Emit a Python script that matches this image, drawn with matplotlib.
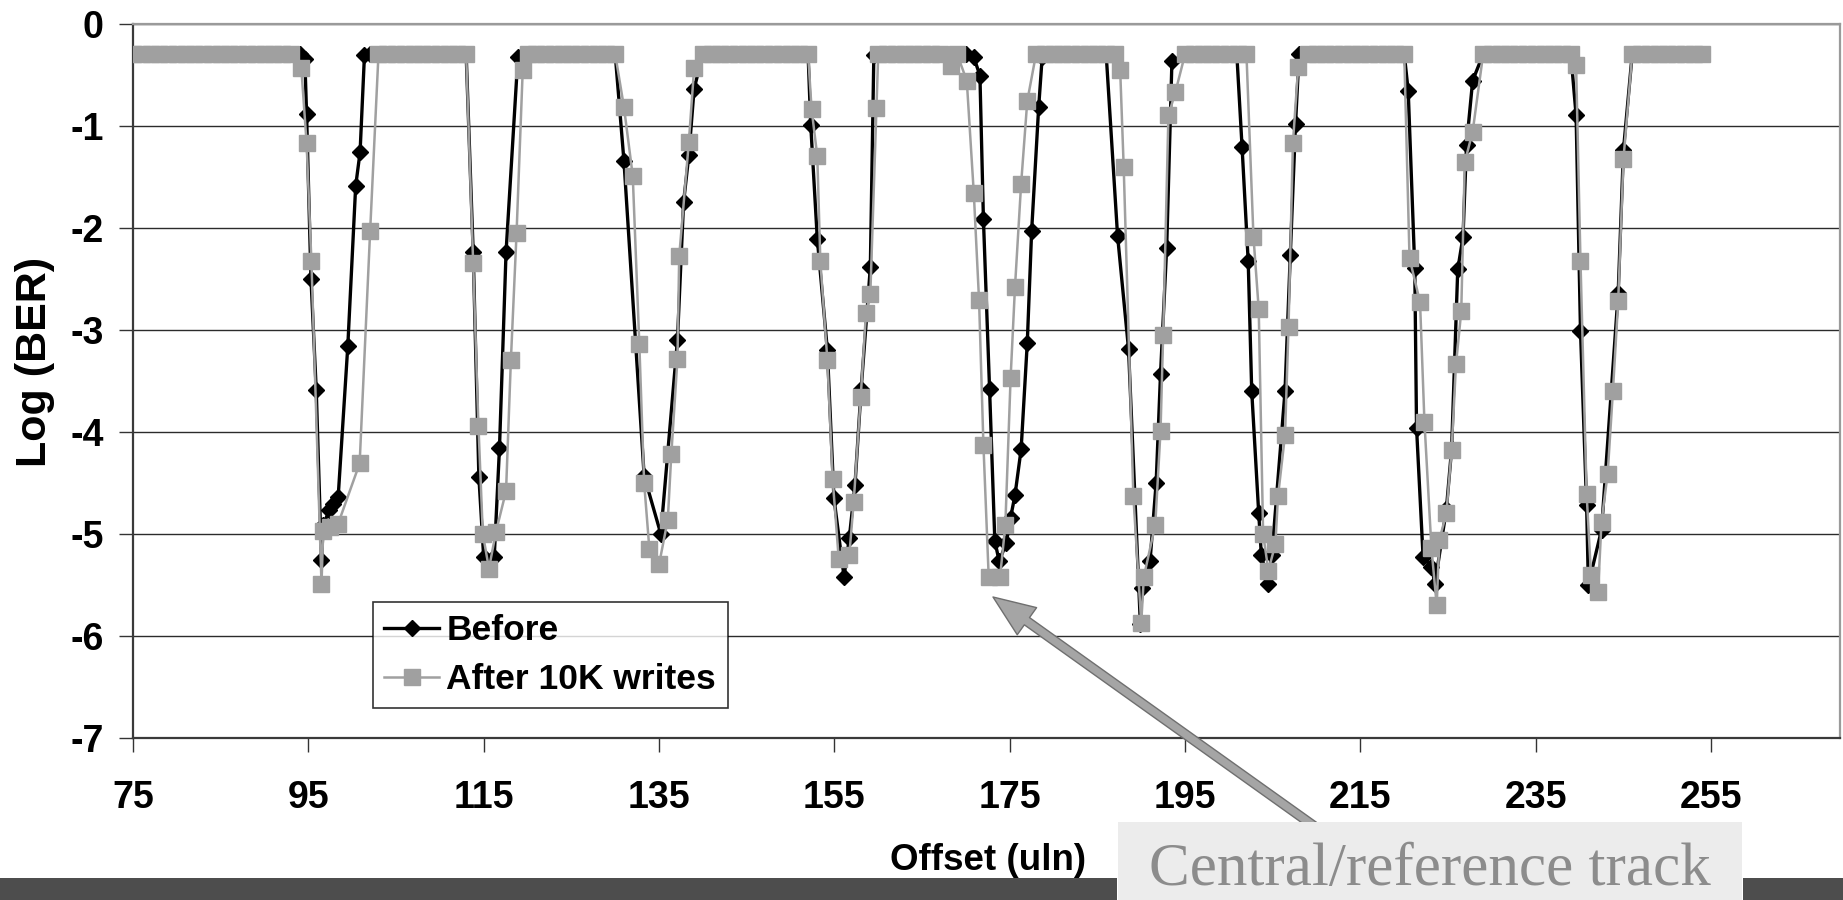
import matplotlib
matplotlib.use("Agg")
import matplotlib.pyplot as plt
from matplotlib import font_manager
from matplotlib.patches import Rectangle

# pick a narrow bold sans if we have one
names = {f.name for f in font_manager.fontManager.ttflist}
sans = "Liberation Sans Narrow" if "Liberation Sans Narrow" in names else "Liberation Sans"
plt.rcParams["font.family"] = [sans, "DejaVu Sans"]
plt.rcParams["axes.unicode_minus"] = False

# ---- data ----
before_x = [75, 76, 77, 78, 79, 80, 81, 82, 83, 84, 85, 86, 87, 88, 89, 90, 91, 92, 93, 94,
            94.6, 94.8, 95.3, 95.9, 96.5, 96.7, 97.4, 97.8, 98.4, 99.5, 100.4, 100.9, 101.4,
            102, 103, 104, 105, 106, 107, 108, 109, 110, 111, 112, 113,
            113.8, 114.45, 115.0, 116.2, 116.8, 117.55, 118.9,
            120, 121, 122, 123, 124, 125, 126, 127, 128, 129, 130,
            131.0, 133.3, 135.2, 137.1, 137.8, 138.4, 139.0,
            140, 141, 142, 143, 144, 145, 146, 147, 148, 149, 150, 151, 152,
            152.3, 153.05, 154.2, 154.95, 156.1, 156.7, 157.35, 158.05, 159.1, 159.5,
            160, 161, 162, 163, 164, 165, 166, 167, 168.3, 169, 170,
            170.9, 171.6, 172.0, 172.7, 173.3, 173.8, 174.6, 175.1, 175.6, 176.3, 177.0, 177.5, 178.3, 178.7,
            180, 181, 182, 183, 184, 185, 186,
            187.3, 188.55, 189.9, 190.1, 191.0, 191.7, 192.2, 192.9, 193.5,
            195, 196, 197, 198, 199, 200,
            200.9, 201.5, 202.2, 202.6, 203.4, 203.7, 204.5, 204.9, 206.4, 207.0, 207.6,
            208, 209, 210, 211, 212, 213, 214, 215, 216, 217, 218, 219, 220,
            220.45, 221.2, 221.4, 222.15, 223.1, 223.5, 224.8, 225.4, 226.1, 226.7, 227.1, 227.8,
            229, 230, 231, 232, 233, 234, 235, 236, 237, 238, 239,
            239.6, 240.1, 240.8, 241.0, 242.5, 244.4, 245.0,
            246, 247, 248, 249, 250, 251, 252, 253, 254]
before_y = [-0.3, -0.3, -0.3, -0.3, -0.3, -0.3, -0.3, -0.3, -0.3, -0.3, -0.3, -0.3, -0.3, -0.3, -0.3, -0.3, -0.3, -0.3, -0.3, -0.3,
            -0.35, -0.89, -2.50, -3.59, -5.26, -4.91, -4.77, -4.71, -4.64, -3.16, -1.59, -1.26, -0.31,
            -0.3, -0.3, -0.3, -0.3, -0.3, -0.3, -0.3, -0.3, -0.3, -0.3, -0.3, -0.3,
            -2.24, -4.44, -5.23, -5.23, -4.16, -2.24, -0.33,
            -0.3, -0.3, -0.3, -0.3, -0.3, -0.3, -0.3, -0.3, -0.3, -0.3, -0.3,
            -1.35, -4.43, -5.0, -3.1, -1.75, -1.29, -0.64,
            -0.3, -0.3, -0.3, -0.3, -0.3, -0.3, -0.3, -0.3, -0.3, -0.3, -0.3, -0.3, -0.3,
            -0.99, -2.11, -3.2, -4.65, -5.42, -5.04, -4.52, -3.58, -2.39, -0.31,
            -0.3, -0.3, -0.3, -0.3, -0.3, -0.3, -0.3, -0.3, -0.42, -0.3, -0.3,
            -0.33, -0.51, -1.92, -3.58, -5.07, -5.27, -5.09, -4.84, -4.62, -4.17, -3.13, -2.03, -0.82, -0.33,
            -0.3, -0.3, -0.3, -0.3, -0.3, -0.3, -0.3,
            -2.08, -3.19, -5.88, -5.53, -5.27, -4.5, -3.43, -2.2, -0.37,
            -0.3, -0.3, -0.3, -0.3, -0.3, -0.3,
            -0.3, -1.21, -2.33, -3.6, -4.8, -5.21, -5.49, -5.21, -3.6, -2.27, -0.98,
            -0.3, -0.3, -0.3, -0.3, -0.3, -0.3, -0.3, -0.3, -0.3, -0.3, -0.3, -0.3, -0.3,
            -0.66, -2.4, -3.96, -5.23, -5.32, -5.49, -4.76, -4.17, -2.41, -2.09, -1.19, -0.56,
            -0.3, -0.3, -0.3, -0.3, -0.3, -0.3, -0.3, -0.3, -0.3, -0.3, -0.3,
            -0.9, -3.01, -4.72, -5.5, -4.96, -2.64, -1.24,
            -0.3, -0.3, -0.3, -0.3, -0.3, -0.3, -0.3, -0.3, -0.3]

after_x = [75, 76, 77, 78, 79, 80, 81, 82, 83, 84, 85, 86, 87, 88, 89, 90, 91, 92, 93,
           94.2, 94.8, 95.35, 96.5, 96.7, 97.5, 98.4, 100.85, 102.05,
           103, 104, 105, 106, 107, 108, 109, 110, 111, 112, 113,
           113.8, 114.4, 114.9, 115.6, 116.4, 117.55, 118.1, 118.75, 119.45,
           120, 121, 122, 123, 124, 125, 126, 127, 128, 129, 130,
           131.0, 132.0, 132.75, 133.3, 133.9, 135.0, 136.0, 136.4, 137.1, 137.3, 138.4, 139.0,
           140, 141, 142, 143, 144, 145, 146, 147, 148, 149, 150, 151, 152,
           152.4, 153.05, 153.4, 154.2, 154.8, 155.5, 156.7, 157.2, 158.0, 158.6, 159.1, 159.8,
           160, 161, 162, 163, 164, 165, 166, 167, 168.3, 169, 170.1,
           170.9, 171.5, 172.0, 172.6, 173.9, 174.5, 175.1, 175.6, 176.3, 177.0,
           178, 179, 180, 181, 182, 183, 184, 185, 186, 187,
           187.6, 188.0, 189.1, 190.0, 190.3, 191.6, 192.2, 192.5, 193.1, 193.9,
           195, 196, 197, 198, 199, 200, 201, 202,
           202.8, 203.4, 203.9, 204.5, 205.3, 205.6, 206.4, 206.8, 207.3, 207.9,
           209, 210, 211, 212, 213, 214, 215, 216, 217, 218, 219, 220,
           220.6, 221.8, 222.3, 223.1, 223.7, 224.0, 224.8, 225.4, 225.9, 226.5, 226.9, 227.8,
           229, 230, 231, 232, 233, 234, 235, 236, 237, 238, 239,
           239.6, 240.1, 240.8, 241.3, 242.1, 242.5, 243.2, 243.8, 244.4, 245.0,
           246, 247, 248, 249, 250, 251, 252, 253, 254]
after_y = [-0.3, -0.3, -0.3, -0.3, -0.3, -0.3, -0.3, -0.3, -0.3, -0.3, -0.3, -0.3, -0.3, -0.3, -0.3, -0.3, -0.3, -0.3, -0.3,
           -0.44, -1.17, -2.33, -5.49, -4.97, -4.93, -4.9, -4.31, -2.03,
           -0.3, -0.3, -0.3, -0.3, -0.3, -0.3, -0.3, -0.3, -0.3, -0.3, -0.3,
           -2.35, -3.94, -5.0, -5.34, -4.98, -4.58, -3.3, -2.05, -0.46,
           -0.3, -0.3, -0.3, -0.3, -0.3, -0.3, -0.3, -0.3, -0.3, -0.3, -0.3,
           -0.82, -1.49, -3.14, -4.5, -5.15, -5.3, -4.86, -4.22, -3.29, -2.28, -1.16, -0.44,
           -0.3, -0.3, -0.3, -0.3, -0.3, -0.3, -0.3, -0.3, -0.3, -0.3, -0.3, -0.3, -0.3,
           -0.84, -1.3, -2.33, -3.3, -4.46, -5.25, -5.21, -4.69, -3.66, -2.84, -2.65, -0.83,
           -0.3, -0.3, -0.3, -0.3, -0.3, -0.3, -0.3, -0.3, -0.42, -0.3, -0.56,
           -1.66, -2.71, -4.13, -5.42, -5.42, -4.91, -3.47, -2.58, -1.57, -0.76,
           -0.3, -0.3, -0.3, -0.3, -0.3, -0.3, -0.3, -0.3, -0.3, -0.3,
           -0.46, -1.41, -4.63, -5.87, -5.42, -4.91, -3.99, -3.05, -0.9, -0.67,
           -0.3, -0.3, -0.3, -0.3, -0.3, -0.3, -0.3, -0.3,
           -2.09, -2.8, -5.0, -5.36, -5.1, -4.63, -4.03, -2.97, -1.17, -0.43,
           -0.3, -0.3, -0.3, -0.3, -0.3, -0.3, -0.3, -0.3, -0.3, -0.3, -0.3, -0.3,
           -2.3, -2.73, -3.9, -5.14, -5.7, -5.06, -4.8, -4.18, -3.34, -2.82, -1.36, -1.06,
           -0.3, -0.3, -0.3, -0.3, -0.3, -0.3, -0.3, -0.3, -0.3, -0.3, -0.3,
           -0.41, -2.33, -4.61, -5.4, -5.57, -4.88, -4.41, -3.6, -2.72, -1.33,
           -0.3, -0.3, -0.3, -0.3, -0.3, -0.3, -0.3, -0.3, -0.3]

x_ticks = [75, 95, 115, 135, 155, 175, 195, 215, 235, 255]
y_ticks = [0, -1, -2, -3, -4, -5, -6, -7]

W, H = 1843, 900
fig = plt.figure(figsize=(W / 100, H / 100), dpi=100)
fig.patch.set_facecolor("white")

# axes box in pixel terms of the reference
left, right, top, bottom = 133, 1840, 23.5, 738
ax = fig.add_axes([left / W, 1 - bottom / H, (right - left) / W, (bottom - top) / H])

gray = "#a0a0a0"
ax.plot(before_x, before_y, color="black", lw=2.4, marker="D", ms=8.5,
        mfc="black", mec="black", zorder=3, label="Before")
ax.plot(after_x, after_y, color=gray, lw=1.8, marker="s", ms=12,
        mfc=gray, mec=gray, zorder=4, label="After 10K writes")

ax.set_xlim(75, 269.7)
ax.set_ylim(-7, 0)
ax.set_xticks(x_ticks)
ax.set_yticks(y_ticks)
ax.set_yticklabels([str(v) for v in y_ticks])

fs = 27
for lab in ax.get_xticklabels() + ax.get_yticklabels():
    lab.set_fontsize(fs)
    lab.set_fontweight("bold")
ax.tick_params(axis="x", direction="out", length=10, width=1, pad=20, color="#333333")
ax.tick_params(axis="y", direction="out", length=10, width=1, pad=11, color="#333333")

ax.yaxis.grid(True, color="#2b2b2b", lw=1)
ax.set_axisbelow(True)
for side in ["top", "right"]:
    ax.spines[side].set_color("#9a9a9a")
    ax.spines[side].set_linewidth(1.6)
for side in ["left", "bottom"]:
    ax.spines[side].set_color("#3a3a3a")
    ax.spines[side].set_linewidth(1.6)

fig.text(35 / W, 1 - 362 / H, "Log (BER)", rotation=90, ha="center", va="center",
         fontsize=31, fontweight="bold")
fig.text(988 / W, 1 - 860 / H, "Offset (uln)", ha="center", va="center",
         fontsize=26.5, fontweight="bold")

leg = ax.legend(loc="lower left", bbox_to_anchor=(372.6 / W, 1 - 707.6 / H),
                bbox_transform=fig.transFigure, borderaxespad=0,
                prop={"size": 25.5, "weight": "bold"}, frameon=True, fancybox=False,
                handlelength=1.55, handletextpad=0.2, labelspacing=0.45,
                borderpad=0.33)
leg.get_frame().set_edgecolor("black")
leg.get_frame().set_linewidth(1.2)
leg.set_zorder(6)

# slide decoration below the chart
bar_h = 22
fig.add_artist(Rectangle((0, 0), 1117 / W, bar_h / H, transform=fig.transFigure,
                         color="#4d4d4d", lw=0))
fig.add_artist(Rectangle((1743 / W, 0), (W - 1743) / W, bar_h / H, transform=fig.transFigure,
                         color="#4d4d4d", lw=0))
fig.add_artist(Rectangle((1118 / W, 0), (1742 - 1118) / W, 78 / H, transform=fig.transFigure,
                         color="#ececec", lw=0))
fig.text(1430 / W, 2 / H, "Central/reference track", ha="center", va="bottom",
         fontsize=44, family="Liberation Serif", color="#8c8c8c")

ax.annotate("", xy=(993, H - 597), xycoords="figure pixels",
            xytext=(1314, H - 826), textcoords="figure pixels",
            arrowprops=dict(arrowstyle="simple,head_length=1.5,head_width=1.2,tail_width=0.32",
                            fc="#a5a5a5", ec="#6f6f6f", lw=1, mutation_scale=20,
                            shrinkA=0, shrinkB=0),
            annotation_clip=False, zorder=7)

fig.savefig("out.png", dpi=100)
